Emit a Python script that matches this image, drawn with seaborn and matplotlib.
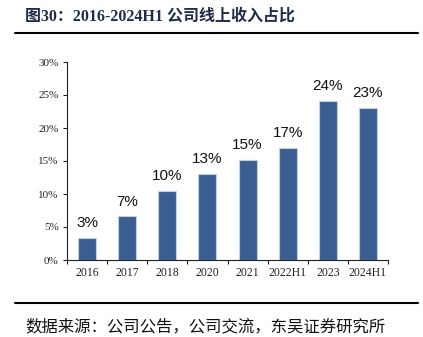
import matplotlib
matplotlib.use("Agg")
import matplotlib.pyplot as plt
import seaborn as sns
import pandas as pd
import numpy as np
from matplotlib.lines import Line2D

categories = ["2016", "2017", "2018", "2020", "2021", "2022H1", "2023", "2024H1"]
values = [3.3, 6.6, 10.4, 13.0, 15.1, 17.0, 24.1, 23.0]
labels = ["3%", "7%", "10%", "13%", "15%", "17%", "24%", "23%"]
yticks = [0, 5, 10, 15, 20, 25, 30]
ytick_labels = ["0%", "5%", "10%", "15%", "20%", "25%", "30%"]
title = "图30：2016-2024H1 公司线上收入占比"
source = "数据来源：公司公告，公司交流，东吴证券研究所"

sns.set_theme(style="white")
plt.rcParams['font.family'] = ['Liberation Serif', 'Noto Sans CJK SC', 'DejaVu Sans']

df = pd.DataFrame({"cat": categories, "val": values})

fig = plt.figure(figsize=(4.23, 3.37), dpi=100)
ax = fig.add_axes([67/423, 77/337, (388-67)/423, (260-62)/337])
sns.barplot(data=df, x="cat", y="val", color="#3a5e91", saturation=1, width=0.45,
            ax=ax, edgecolor="#c5d0e0", linewidth=0.8)

ax.set_ylim(0, 30)
ax.set_xlim(-0.5, len(categories) - 0.5)
ax.set_yticks(yticks)
ax.set_yticklabels(ytick_labels, fontsize=8, family=['Liberation Serif'])
ax.set_xticks(range(len(categories)))
ax.set_xticklabels(categories, fontsize=8.5, family=['Liberation Serif'])
ax.set_xlabel("")
ax.set_ylabel("")
ax.tick_params(axis='x', length=0, pad=5, colors='#222222')
ax.tick_params(axis='y', length=3, width=0.8, direction='out', left=True, pad=3, colors='#222222')
ax.set_xticks(np.arange(-0.5, len(categories), 1.0), minor=True)
ax.tick_params(axis='x', which='minor', length=3, width=0.8, direction='out', bottom=True, color='#222222')
for s in ["top", "right"]:
    ax.spines[s].set_visible(False)
for s in ["left", "bottom"]:
    ax.spines[s].set_color("#222222")
    ax.spines[s].set_linewidth(0.8)

for p, lab in zip(ax.patches, labels):
    ax.text(p.get_x() + p.get_width() / 2, p.get_height() + 1.2, lab,
            ha='center', va='bottom', fontsize=11, family=['Liberation Sans'], color='#111111')

fig.text(25/423, 1 - 17/337, title, fontsize=11.5, fontweight='bold', color='#1f2d4a',
         va='center', ha='left', family=['Liberation Serif', 'Noto Sans CJK SC'])
fig.add_artist(Line2D([15/423, 418/423], [1 - 33/337, 1 - 33/337], color='black', lw=1.5))
fig.add_artist(Line2D([15/423, 418/423], [1 - 303/337, 1 - 303/337], color='black', lw=1.5))
fig.text(25/423, 1 - 327/337, source, fontsize=11.8, color='#111111', va='center', ha='left',
         family=['Noto Sans CJK SC'])

fig.savefig("out.png", dpi=100)
